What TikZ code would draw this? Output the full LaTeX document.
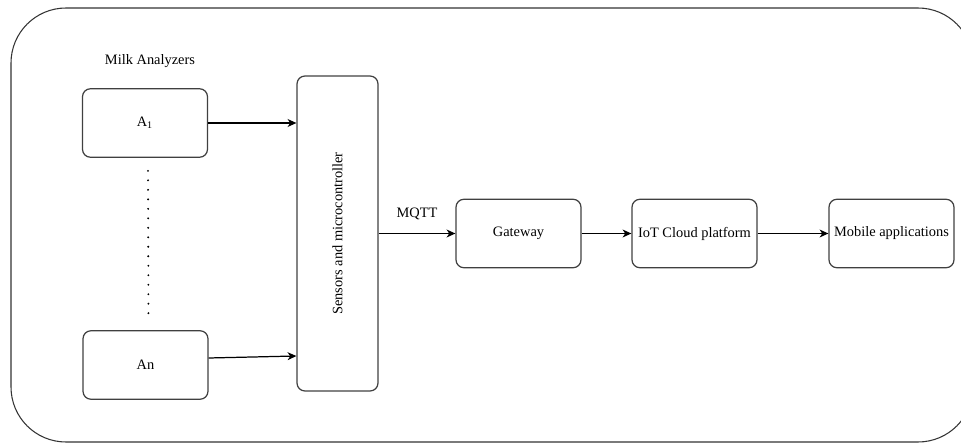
\documentclass[tikz,border=0pt]{standalone}
\usepackage{fontspec}
\setmainfont{Liberation Serif}
\usetikzlibrary{arrows.meta, positioning, calc}

\begin{document}
\begin{tikzpicture}[font = \fontsize{8.2}{10}\selectfont,
    box/.style = {draw=black!75, line width=0.7pt, rounded corners=0.16cm,
        minimum width=2.5cm, minimum height=1.37cm, inner sep=1pt},
    >={Stealth[length=5pt, width=4.5pt, inset=1.5pt]}]
    \useasboundingbox (0,0) rectangle (19.22,8.86);
    \draw[black!80, line width=0.6pt, rounded corners=1.1cm] (0.22,8.70) rectangle (19.46,0.02);

    \node (title) at (3.00,7.64) {Milk Analyzers};
    \node[box] (a1) at (2.90,6.40) {A\textsubscript{1}};
    \node[box] (an) at (2.91,1.56) {An};
    \node[box, minimum width=1.62cm, minimum height=6.30cm,
        label={[rotate=90]center:Sensors and microcontroller}] (mcu) at (6.75,4.19) {};
    \node[box] (gw) at (10.37,4.19) {Gateway};
    \node[box] (cloud) at (13.89,4.19) {IoT Cloud platform};
    \node[box] (mobile) at (17.83,4.19) {Mobile applications};

    \draw[line width=1.2pt, line cap=round, dash pattern=on 0pt off 5.4pt,
        shorten <=0.26cm, shorten >=0.26cm] ([xshift=0.06cm]a1.south) -- ([xshift=0.06cm]an.north);

    \draw[->, line width=0.7pt] (a1) -- (mcu.west |- a1);
    \draw[->, line width=0.7pt] ([yshift=0.14cm]an.east) -- ([yshift=0.18cm]mcu.west |- an);
    \draw[->, line width=0.7pt] (mcu) -- (gw) node[midway, above=4pt] {MQTT};
    \draw[->, line width=0.7pt] (gw) -- (cloud);
    \draw[->, line width=0.7pt] (cloud) -- (mobile);
\end{tikzpicture}
\end{document}
